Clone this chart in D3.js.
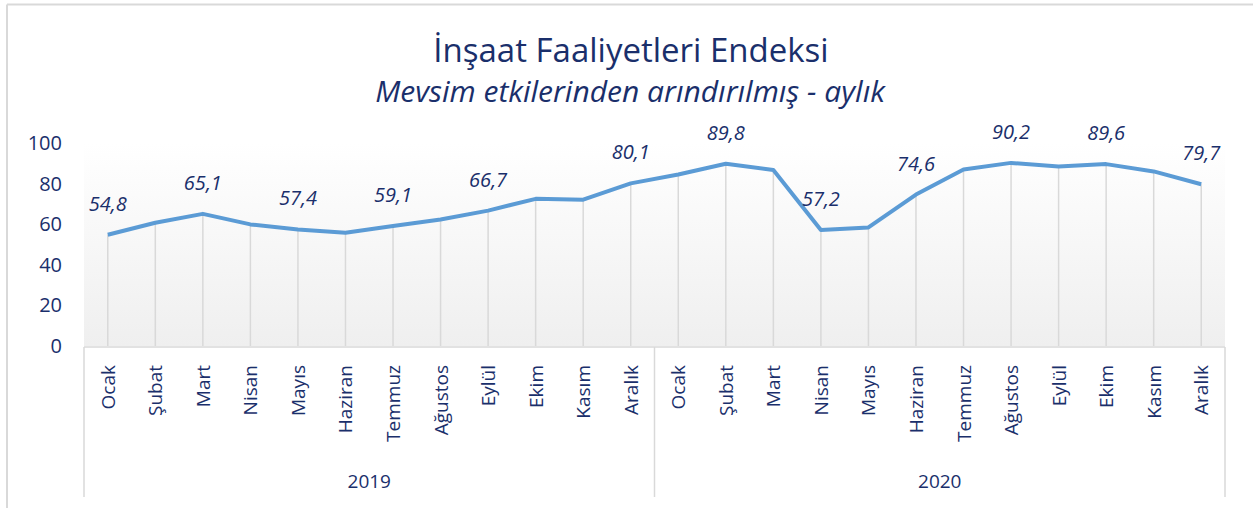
<!DOCTYPE html>
<html>
<head>
<meta charset="utf-8">
<script src="https://cdn.jsdelivr.net/npm/d3@7"></script>
<style>
  body { margin: 0; background: #fff; }
  svg { display: block; font-family: "Open Sans", sans-serif; }
</style>
</head>
<body>
<div id="chart"></div>
<script>
// chart values
var months = ["Ocak", "Şubat", "Mart", "Nisan", "Mayıs", "Haziran", "Temmuz", "Ağustos", "Eylül", "Ekim", "Kasım", "Aralık"];
var years = ["2019", "2020"];
var values2019 = [54.8, 60.7, 65.1, 59.9, 57.4, 55.8, 59.1, 62.3, 66.7, 72.5, 72.1, 80.1];
var values2020 = [84.5, 89.8, 86.7, 57.2, 58.4, 74.6, 86.9, 90.2, 88.4, 89.6, 86.0, 79.7];
// which points carry a value label
var labeled2019 = [true, false, true, false, true, false, true, false, true, false, false, true];
var labeled2020 = [false, true, false, true, false, true, false, true, false, true, false, true];
var yTicks = [0, 20, 40, 60, 80, 100];

var title = "İnşaat Faaliyetleri Endeksi";
var subtitle = "Mevsim etkilerinden arındırılmış - aylık";

var width = 1253, height = 508;
var navy = "#1a2f6b";
var plotLeft = 84, plotRight = 1225, plotTop = 143, plotBottom = 346;

// flatten into rows
var pData = [];
years.forEach(function(yr, yi) {
    var vals = yi == 0 ? values2019 : values2020;
    var labs = yi == 0 ? labeled2019 : labeled2020;
    months.forEach(function(m, mi) {
        pData.push({key: yr + "-" + mi, year: yr, month: m, value: vals[mi], label: labs[mi]});
    });
});

var svg = d3.select("#chart").append("svg")
    .attr("width", width)
    .attr("height", height);

// gradient for the plot area
var grad = svg.append("defs").append("linearGradient")
    .attr("id", "plotGrad")
    .attr("x1", 0).attr("y1", 0).attr("x2", 0).attr("y2", 1);
grad.append("stop").attr("offset", "0%").attr("stop-color", "#ffffff");
grad.append("stop").attr("offset", "100%").attr("stop-color", "#efefef");

// outer frame (only top and left edges are visible)
svg.append("line").attr("x1", 7).attr("x2", width).attr("y1", 4.5).attr("y2", 4.5)
    .attr("stroke", "#d9d9d9").attr("stroke-width", 2);
svg.append("line").attr("x1", 7).attr("x2", 7).attr("y1", 4.5).attr("y2", height)
    .attr("stroke", "#d9d9d9").attr("stroke-width", 2);

// scales
var xScale = d3.scaleBand()
    .domain(pData.map(d => d.key))
    .range([plotLeft, plotRight]);

var yScale = d3.scaleLinear()
    .domain([0, 100])
    .range([plotBottom, plotTop]);

var cx = d => xScale(d.key) + xScale.bandwidth() / 2;

svg.append("rect")
    .attr("x", plotLeft).attr("y", plotTop)
    .attr("width", plotRight - plotLeft).attr("height", plotBottom - plotTop)
    .attr("fill", "url(#plotGrad)");

// drop lines
svg.selectAll(".drop")
    .data(pData)
    .enter()
    .append("line")
    .attr("class", "drop")
    .attr("x1", cx).attr("x2", cx)
    .attr("y1", d => yScale(d.value))
    .attr("y2", plotBottom)
    .attr("stroke", "#d9d9d9")
    .attr("stroke-width", 1.5);

// y axis labels
var leftAxis = d3.axisLeft(yScale).tickValues(yTicks).tickSize(0).tickPadding(0);
var yAxisG = svg.append("g")
    .attr("transform", "translate(62,0)")
    .call(leftAxis);
yAxisG.select(".domain").remove();
yAxisG.selectAll("text")
    .attr("fill", navy)
    .style("font-size", "20px")
    .style("font-family", "Open Sans, sans-serif");

// category axis line
svg.append("line")
    .attr("x1", plotLeft).attr("x2", plotRight)
    .attr("y1", plotBottom + 1).attr("y2", plotBottom + 1)
    .attr("stroke", "#d9d9d9").attr("stroke-width", 1.5);

// year separators
var sepX = [plotLeft, xScale(years[1] + "-0"), plotRight];
svg.selectAll(".sep")
    .data(sepX)
    .enter()
    .append("line")
    .attr("x1", d => d).attr("x2", d => d)
    .attr("y1", plotBottom + 1).attr("y2", 497)
    .attr("stroke", "#d9d9d9").attr("stroke-width", 1.5);

// month labels
svg.selectAll(".month")
    .data(pData)
    .enter()
    .append("text")
    .attr("class", "month")
    .attr("transform", d => "translate(" + (cx(d) + 7) + ",365)rotate(-90)")
    .attr("text-anchor", "end")
    .attr("fill", navy)
    .style("font-size", "19px")
    .text(d => d.month);

// year labels
svg.selectAll(".year")
    .data(years)
    .enter()
    .append("text")
    .attr("class", "year")
    .attr("x", (d, i) => (sepX[i] + sepX[i + 1]) / 2)
    .attr("y", 488)
    .attr("text-anchor", "middle")
    .attr("fill", navy)
    .style("font-size", "19px")
    .text(d => d);

// the line
var line = d3.line()
    .x(cx)
    .y(d => yScale(d.value));

svg.append("path")
    .datum(pData)
    .attr("d", line)
    .attr("fill", "none")
    .attr("stroke", "#5b9bd5")
    .attr("stroke-width", 4)
    .attr("stroke-linejoin", "round");

// value labels
svg.selectAll(".vlabel")
    .data(pData.filter(d => d.label))
    .enter()
    .append("text")
    .attr("class", "vlabel")
    .attr("x", cx)
    .attr("y", d => yScale(d.value) - 24)
    .attr("text-anchor", "middle")
    .attr("fill", navy)
    .style("font-size", "20px")
    .style("font-style", "italic")
    .text(d => d.value.toFixed(1).replace(".", ","));

// titles
svg.append("text")
    .attr("x", 631).attr("y", 62)
    .attr("text-anchor", "middle")
    .attr("fill", navy)
    .style("font-size", "33px")
    .text(title);

svg.append("text")
    .attr("x", 630).attr("y", 102)
    .attr("text-anchor", "middle")
    .attr("fill", navy)
    .style("font-size", "30px")
    .style("font-style", "italic")
    .text(subtitle);
</script>
</body>
</html>
